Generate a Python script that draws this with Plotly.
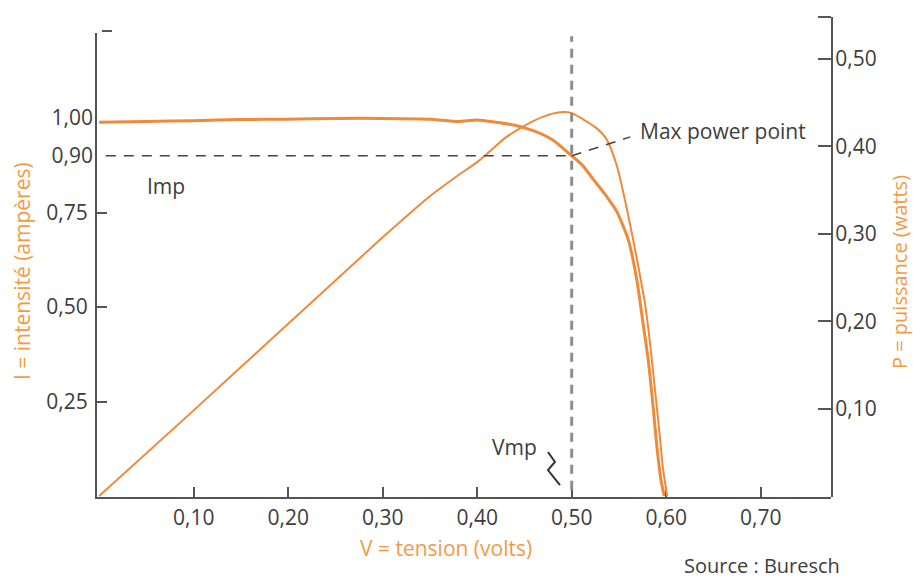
import plotly.graph_objects as go

# ---- data ----
v_i = [0.0, 0.05, 0.10, 0.15, 0.20, 0.25, 0.30, 0.35, 0.38, 0.40, 0.42, 0.44, 0.46, 0.48, 0.50,
       0.511, 0.5225, 0.535, 0.548, 0.560, 0.569, 0.575, 0.581, 0.586, 0.590, 0.5945, 0.598]
i_vals = [0.989, 0.991, 0.993, 0.996, 0.997, 0.999, 0.999, 0.997, 0.991, 0.995, 0.989, 0.981,
          0.966, 0.942, 0.900, 0.876, 0.839, 0.799, 0.751, 0.677, 0.571, 0.466, 0.360, 0.241,
          0.135, 0.042, 0.0]

v_p = [0.0, 0.10, 0.20, 0.30, 0.35, 0.38, 0.40, 0.413, 0.43, 0.449, 0.47, 0.488, 0.50, 0.512,
       0.525, 0.537, 0.548, 0.5585, 0.570, 0.5776, 0.583, 0.588, 0.5924, 0.5966, 0.601]
p_vals = [0.0, 0.098, 0.197, 0.296, 0.343, 0.367, 0.382, 0.394, 0.410, 0.423, 0.434, 0.439, 0.438,
          0.431, 0.422, 0.408, 0.377, 0.328, 0.2655, 0.220, 0.174, 0.123, 0.0775, 0.032, 0.0]

x_ticks = [0.10, 0.20, 0.30, 0.40, 0.50, 0.60, 0.70]
x_ticktext = ["0,10", "0,20", "0,30", "0,40", "0,50", "0,60", "0,70"]
i_ticks = [0.25, 0.50, 0.75]
i_ticktext = ["0,25", "0,50", "0,75"]
i_ticks_nomark = [0.90, 1.00]
i_ticktext_nomark = ["0,90", "1,00"]
p_ticks = [0.10, 0.20, 0.30, 0.40, 0.50]
p_ticktext = ["0,10", "0,20", "0,30", "0,40", "0,50"]
v_mp = 0.50
i_mp = 0.90

ORANGE = "#EF8A3A"
TITLE_OR = "#F39A45"
TXT = "#3d3d3d"
AX = "#555555"
FONT = "Open Sans"
FS = 21

fig = go.Figure()
fig.add_trace(go.Scatter(x=v_i, y=i_vals, mode="lines",
                         line=dict(color=ORANGE, width=3, shape="spline", smoothing=0.6),
                         xaxis="x", yaxis="y", showlegend=False, hoverinfo="skip"))
fig.add_trace(go.Scatter(x=v_p, y=p_vals, mode="lines",
                         line=dict(color=ORANGE, width=2, shape="spline", smoothing=0.6),
                         xaxis="x", yaxis="y2", showlegend=False, hoverinfo="skip"))
# invisible trace so the overlaying label-only axis is drawn
fig.add_trace(go.Scatter(x=[None], y=[None], mode="lines", xaxis="x", yaxis="y3",
                         showlegend=False, hoverinfo="skip"))

tickfont = dict(family=FONT, size=FS, color=TXT)

fig.update_layout(
    width=913, height=579,
    margin=dict(l=97, r=82, t=17, b=82),
    paper_bgcolor="white", plot_bgcolor="rgba(0,0,0,0)",
    xaxis=dict(domain=[0, 1], range=[-0.0023, 0.7744], anchor="y",
               tickvals=x_ticks, ticktext=x_ticktext, ticks="inside", ticklen=10,
               tickwidth=1.5, tickcolor=AX, showline=True, linecolor=AX, linewidth=2,
               showgrid=False, zeroline=False, tickfont=tickfont, ticklabelstandoff=1),
    yaxis=dict(domain=[0, 464 / 480], range=[-0.0026, 1.2249], anchor="x",
               tickvals=i_ticks, ticktext=i_ticktext, ticks="inside", ticklen=10,
               tickwidth=1.5, tickcolor=AX, showline=True, linecolor=AX, linewidth=2,
               showgrid=False, zeroline=False, tickfont=tickfont, ticklabelstandoff=3),
    yaxis3=dict(overlaying="y", side="left", range=[-0.0026, 1.2249], anchor="x",
                tickvals=i_ticks_nomark, ticktext=i_ticktext_nomark, ticks="",
                showline=False, showgrid=False, zeroline=False, tickfont=tickfont,
                ticklabelstandoff=3),
    yaxis2=dict(domain=[0, 1], range=[-0.0011, 0.548], anchor="x", side="right",
                tickvals=p_ticks, ticktext=p_ticktext, ticks="inside", ticklen=13,
                tickwidth=1.5, tickcolor=AX, showline=True, linecolor=AX, linewidth=2,
                showgrid=False, zeroline=False, tickfont=tickfont, ticklabelstandoff=-2),
)

shapes = [
    # vertical dashed Vmp line
    dict(type="line", xref="x", yref="paper", x0=v_mp, x1=v_mp, y0=0.015, y1=0.96,
         line=dict(color="#8c8c8c", width=3, dash="9px,7px")),
    # horizontal dashed Imp line
    dict(type="line", xref="x", yref="y", x0=0.007, x1=v_mp, y0=i_mp, y1=i_mp,
         line=dict(color="#444444", width=1.5, dash="10px,8px")),
    # leader to Max power point
    dict(type="line", xref="x", yref="y", x0=v_mp, y0=i_mp, x1=0.562, y1=0.95,
         line=dict(color="#444444", width=1.5, dash="10px,8px")),
    # top caps
    dict(type="line", xref="paper", yref="paper", x0=5 / 734, x1=15 / 734,
         y0=466 / 480, y1=466 / 480, line=dict(color=AX, width=2)),
    dict(type="line", xref="paper", yref="paper", x0=1 - 13 / 734, x1=1,
         y0=1, y1=1, line=dict(color=AX, width=2)),
    # squiggle near Vmp
    dict(type="path", xref="x", yref="y",
         path="M 0.4749 0.1164 L 0.4823 0.0899 L 0.4749 0.0688 L 0.4876 0.0291",
         line=dict(color="#333333", width=2)),
]
fig.update_layout(shapes=shapes)

ann = [
    dict(text="Imp", x=0.048, y=0.82, xref="x", yref="y", showarrow=False,
         xanchor="left", yanchor="middle", font=dict(family=FONT, size=FS, color=TXT)),
    dict(text="Vmp", x=0.414, y=0.13, xref="x", yref="y", showarrow=False,
         xanchor="left", yanchor="middle", font=dict(family=FONT, size=FS, color=TXT)),
    dict(text="Max power point", x=0.570, y=0.965, xref="x", yref="y", showarrow=False,
         xanchor="left", yanchor="middle", font=dict(family=FONT, size=FS, color=TXT)),
    dict(text="I = intensité (ampères)", x=(22 - 97) / 734, y=(497 - 271) / 480, xref="paper",
         yref="paper", xanchor="center", yanchor="middle",
         showarrow=False, textangle=-90, font=dict(family=FONT, size=FS, color=TITLE_OR)),
    dict(text="P = puissance (watts)", x=(899 - 97) / 734, y=(497 - 272) / 480, xref="paper",
         yref="paper", xanchor="center", yanchor="middle",
         showarrow=False, textangle=-90, font=dict(family=FONT, size=FS - 1, color=TITLE_OR)),
    dict(text="V = tension (volts)", x=(446 - 97) / 734, y=(497 - 548) / 480, xref="paper",
         yref="paper", xanchor="center", yanchor="middle", showarrow=False,
         font=dict(family=FONT, size=FS, color=TITLE_OR)),
    dict(text="Source : Buresch", x=(842 - 97) / 734, y=(497 - 565) / 480, xref="paper",
         yref="paper", xanchor="right", yanchor="middle", showarrow=False,
         font=dict(family=FONT, size=FS - 1, color=TXT)),
]
fig.update_layout(annotations=ann)

fig.write_html("out.html")
